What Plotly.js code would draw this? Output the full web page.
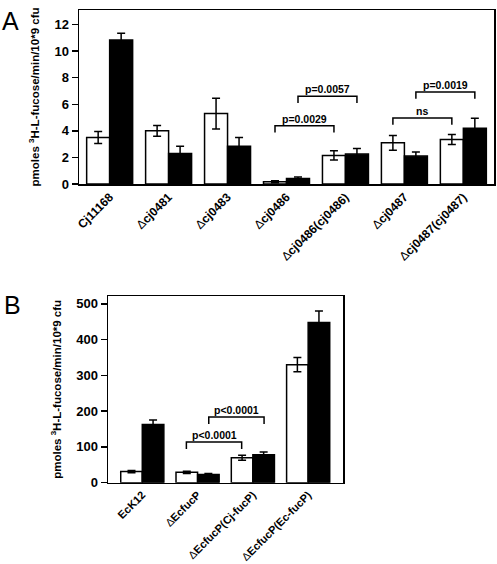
<!DOCTYPE html>
<html><head><meta charset="utf-8">
<script src="https://cdn.plot.ly/plotly-3.0.1.min.js"></script>
<style>html,body{margin:0;padding:0;background:#fff}#chart{width:497px;height:564px}</style>
</head><body><div id="chart"></div>
<script>
// Panel A data
const catsA = ['Cj11168','Δcj0481','Δcj0483','Δcj0486','Δcj0486(cj0486)','Δcj0487','Δcj0487(cj0487)'];
const whiteA = [3.5, 4.0, 5.3, 0.17, 2.15, 3.1, 3.35];
const whiteErrA = [0.45, 0.4, 1.15, 0.08, 0.35, 0.55, 0.38];
const blackA = [10.85, 2.3, 2.85, 0.42, 2.25, 2.1, 4.2];
const blackErrA = [0.5, 0.55, 0.65, 0.1, 0.43, 0.3, 0.75];
const bracketFromA = [3, 3, 5, 5];
const bracketToA = [4, 4, 6, 6];
const bracketSideA = ['white', 'black', 'white', 'black'];
const bracketYA = [4.38, 6.6, 4.96, 6.92];
const bracketLabelA = ['p=0.0029', 'p=0.0057', 'ns', 'p=0.0019'];

// Panel B data
const catsB = ['EcK12','ΔEcfucP','ΔEcfucP(Cj-fucP)','ΔEcfucP(Ec-fucP)'];
const whiteB = [31, 29, 70, 330];
const whiteErrB = [3, 3, 7, 20];
const blackB = [163, 23, 78, 448];
const blackErrB = [12, 3, 8, 32];
const bracketFromB = [1, 1];
const bracketToB = [2, 2];
const bracketSideB = ['white', 'black'];
const bracketYB = [114, 184];
const bracketLabelB = ['p<0.0001', 'p<0.0001'];

const FONT = 'Liberation Sans, Arial, sans-serif';
const W = 497, H = 564;
const gapA = 0.22, gapB = 0.19;

function barTrace(cats, vals, errs, fill, xa, ya) {
  return {
    type: 'bar', x: cats, y: vals, xaxis: xa, yaxis: ya,
    marker: {color: fill, line: {color: '#000', width: 1.5}},
    error_y: {type: 'data', array: errs, visible: true, color: '#000', thickness: 1.5, width: 4},
    showlegend: false, hoverinfo: 'none'
  };
}

const data = [
  barTrace(catsA, whiteA, whiteErrA, '#fff', 'x', 'y'),
  barTrace(catsA, blackA, blackErrA, '#000', 'x', 'y'),
  barTrace(catsB, whiteB, whiteErrB, '#fff', 'x2', 'y2'),
  barTrace(catsB, blackB, blackErrB, '#000', 'x2', 'y2')
];

const shapes = [], annotations = [];
function addBrackets(from, to, side, yv, labels, gap, drop, xref, yref) {
  const off = (1 - gap) / 4;
  for (let i = 0; i < from.length; i++) {
    const s = side[i] === 'white' ? -off : off;
    const x0 = from[i] + s, x1 = to[i] + s;
    shapes.push({type: 'path', xref: xref, yref: yref,
      path: `M ${x0},${yv[i]-drop} L ${x0},${yv[i]} L ${x1},${yv[i]} L ${x1},${yv[i]-drop}`,
      line: {color: '#000', width: 1.5}});
    annotations.push({xref: xref, yref: yref, x: (x0 + x1) / 2, y: yv[i], text: labels[i],
      showarrow: false, yanchor: 'bottom', yshift: -1,
      font: {family: FONT, size: 10.5, color: '#000', weight: 'bold'}});
  }
}
addBrackets(bracketFromA, bracketToA, bracketSideA, bracketYA, bracketLabelA, gapA, 0.5, 'x', 'y');
addBrackets(bracketFromB, bracketToB, bracketSideB, bracketYB, bracketLabelB, gapB, 20, 'x2', 'y2');

annotations.push({xref: 'paper', yref: 'paper', x: 0 / W, y: 1 - 5 / H, xanchor: 'left', yanchor: 'top',
  text: 'A', showarrow: false, font: {family: FONT, size: 25, color: '#000'}});
annotations.push({xref: 'paper', yref: 'paper', x: 2 / W, y: 1 - 289 / H, xanchor: 'left', yanchor: 'top',
  text: 'B', showarrow: false, font: {family: FONT, size: 25, color: '#000'}});

function tickText(c) {
  return c.charAt(0) === 'Δ' ? 'Δ<b>' + c.slice(1) + '</b>' : '<b>' + c + '</b>';
}

const tickFont = {family: FONT, size: 13, color: '#000', weight: 'bold'};
const xTickFontA = {family: FONT, size: 12, color: '#000'};
const xTickFontB = {family: FONT, size: 11, color: '#000'};
const titleFont = {family: FONT, size: 11.5, color: '#000', weight: 'bold'};
const yTitle = 'pmoles <sup>3</sup>H-L-fucose/min/10*9 cfu';

const axisCommon = {showline: true, mirror: true, linecolor: '#000', linewidth: 1.5, showgrid: false, zeroline: false};

const layout = {
  width: W, height: H,
  margin: {l: 0, r: 0, t: 0, b: 0},
  paper_bgcolor: '#fff', plot_bgcolor: '#fff',
  barmode: 'group',
  bargap: gapA, bargroupgap: 0,
  showlegend: false,
  xaxis: Object.assign({}, axisCommon, {domain: [79 / W, 494 / W], anchor: 'y', type: 'category',
    range: [-0.52, 6.52], ticks: '', tickangle: -45, tickfont: xTickFontA,
    tickmode: 'array', tickvals: catsA, ticktext: catsA.map(tickText)}),
  yaxis: Object.assign({}, axisCommon, {domain: [1 - 184 / H, 1 - 10 / H], anchor: 'x',
    range: [0, 13.1], dtick: 2, ticks: 'outside', ticklen: 6, tickwidth: 1.5, tickcolor: '#000',
    tickfont: tickFont, title: {text: yTitle, font: titleFont, standoff: 12}}),
  xaxis2: Object.assign({}, axisCommon, {domain: [108 / W, 343 / W], anchor: 'y2', type: 'category',
    range: [-0.62, 3.63], ticks: '', tickangle: -45, tickfont: xTickFontB,
    tickmode: 'array', tickvals: catsB, ticktext: catsB.map(tickText)}),
  yaxis2: Object.assign({}, axisCommon, {domain: [1 - 482.7 / H, 1 - 296 / H], anchor: 'x2',
    range: [0, 522], dtick: 100, ticks: 'outside', ticklen: 6, tickwidth: 1.5, tickcolor: '#000',
    tickfont: tickFont, title: {text: yTitle, font: titleFont, standoff: 12}}),
  shapes: shapes,
  annotations: annotations
};

Plotly.newPlot('chart', data, layout, {staticPlot: true, displayModeBar: false});
</script></body></html>
